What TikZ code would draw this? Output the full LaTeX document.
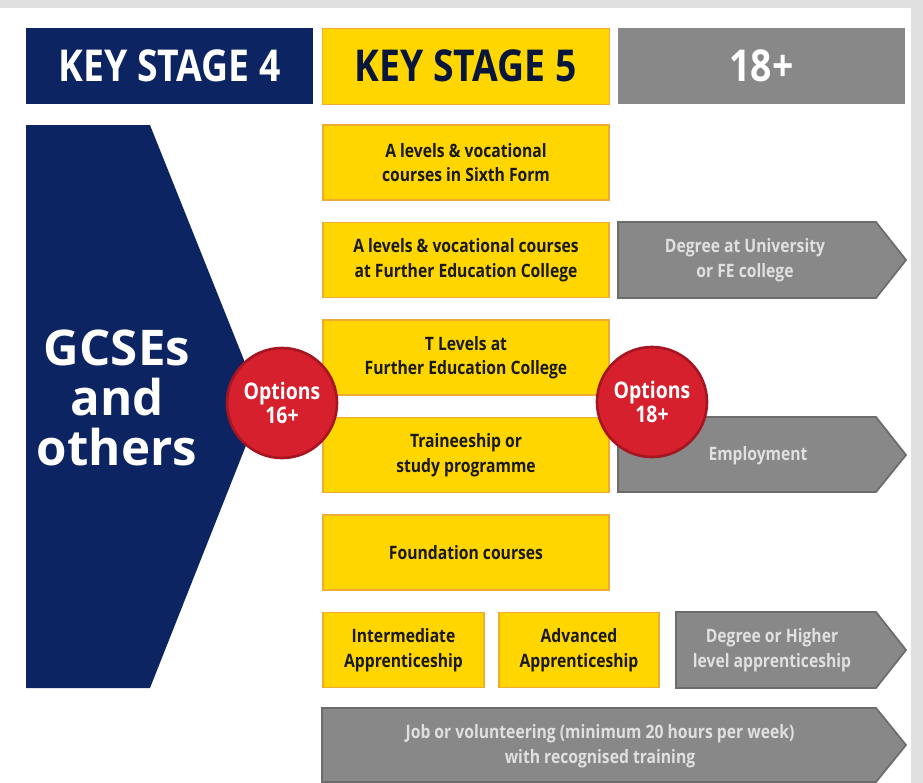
\documentclass[tikz,border=0pt]{standalone}
\usepackage{fontspec}
\setmainfont{Open Sans}
\newfontfamily\narrowsans[FakeStretch=0.85]{Open Sans}
\usetikzlibrary{positioning}
\definecolor{ksnavy}{RGB}{12,36,97}
\definecolor{ksyellow}{RGB}{255,214,0}
\definecolor{ksedge}{RGB}{238,172,50}
\definecolor{ksgrey}{RGB}{136,136,136}
\definecolor{ksgreyedge}{RGB}{108,108,108}
\definecolor{ksred}{RGB}{214,32,45}
\definecolor{ksrededge}{RGB}{165,22,32}

\begin{document}
\begin{tikzpicture}[
    x=0.2mm, y=-0.2mm,
    node distance=0.45cm and 0.3cm,
    header/.style={rectangle, minimum width=5.74cm, minimum height=1.52cm, inner sep=0pt, outer sep=0pt, font=\narrowsans\bfseries\fontsize{25}{27}\selectfont},
    course/.style={rectangle, draw=ksedge, line width=1pt, fill=ksyellow, minimum width=5.72cm, minimum height=1.5cm, inner sep=0pt, outer sep=0pt, align=center, text=black!90, font=\narrowsans\bfseries\fontsize{10.5}{14}\selectfont},
    route/.style={fill=ksgrey, draw=ksgreyedge, line width=1pt},
    routetext/.style={text=black!12, align=center, font=\narrowsans\bfseries\fontsize{10.5}{14}\selectfont},
    option/.style={circle, fill=ksred, draw=ksrededge, line width=1.5pt, minimum size=2.2cm, inner sep=0pt, text=white, align=center, font=\narrowsans\bfseries\fontsize{13}{14}\selectfont}
]
\useasboundingbox (0,0) rectangle (923,783);
% Page
\fill[black!12] (0,0) rectangle (923,783);
\fill[white] (0,8) rectangle (911,783);

% Headers
\node[header, fill=ksnavy, text=white, anchor=north west] (ks4) at (26,28) {KEY STAGE 4};
\node[header, fill=ksyellow, draw=ksedge, text=ksnavy!60!black, right=0.18cm of ks4] (ks5) {KEY STAGE 5};
\node[header, fill=ksgrey, text=white, right=0.18cm of ks5] (adult) {18+};

% Key stage 4
\fill[ksnavy] (26,125) -- (150,125) -- (262,405) -- (150,688) -- (26,688) -- cycle;
\node[text=white, align=center, font=\bfseries\fontsize{28}{28.5}\selectfont] (gcse) at (117,398) {GCSEs\\and\\others};

% Key stage 5
\node[course, anchor=north west] (sixth) at (323,125) {A levels \& vocational\\courses in Sixth Form};
\node[course, below=of sixth] (fecol) {A levels \& vocational courses\\at Further Education College};
\node[course, below=of fecol] (tlevel) {T Levels at\\Further Education College};
\node[course, below=of tlevel] (trainee) {Traineeship or\\study programme};
\node[course, below=of trainee] (found) {Foundation courses};
\node[course, minimum width=3.22cm, below=of found.south west, anchor=north west] (inter) {Intermediate\\Apprenticeship};
\node[course, minimum width=3.2cm, right=of inter] (advanced) {Advanced\\Apprenticeship};

% 18+
\draw[route] (618,222) -- (876,222) -- (906,260) -- (876,298) -- (618,298) -- cycle;
\node[routetext] (degree) at (745,260) {Degree at University\\or FE college};
\draw[route] (618,417) -- (876,417) -- (906,455) -- (876,492) -- (618,492) -- cycle;
\node[routetext] (employ) at (758,456) {Employment};
\draw[route] (676,612) -- (876,612) -- (906,650) -- (876,688) -- (676,688) -- cycle;
\node[routetext] (higher) at (772,650) {Degree or Higher\\level apprenticeship};
\draw[route] (322,708) -- (876,708) -- (906,745) -- (876,782) -- (322,782) -- cycle;
\node[routetext] (job) at (600,746) {Job or volunteering (minimum 20 hours per week)\\with recognised training};

% Options
\node[option] (opt16) at (282,403) {Options\\16+};
\node[option] (opt18) at (652,402) {Options\\18+};

\end{tikzpicture}
\end{document}
